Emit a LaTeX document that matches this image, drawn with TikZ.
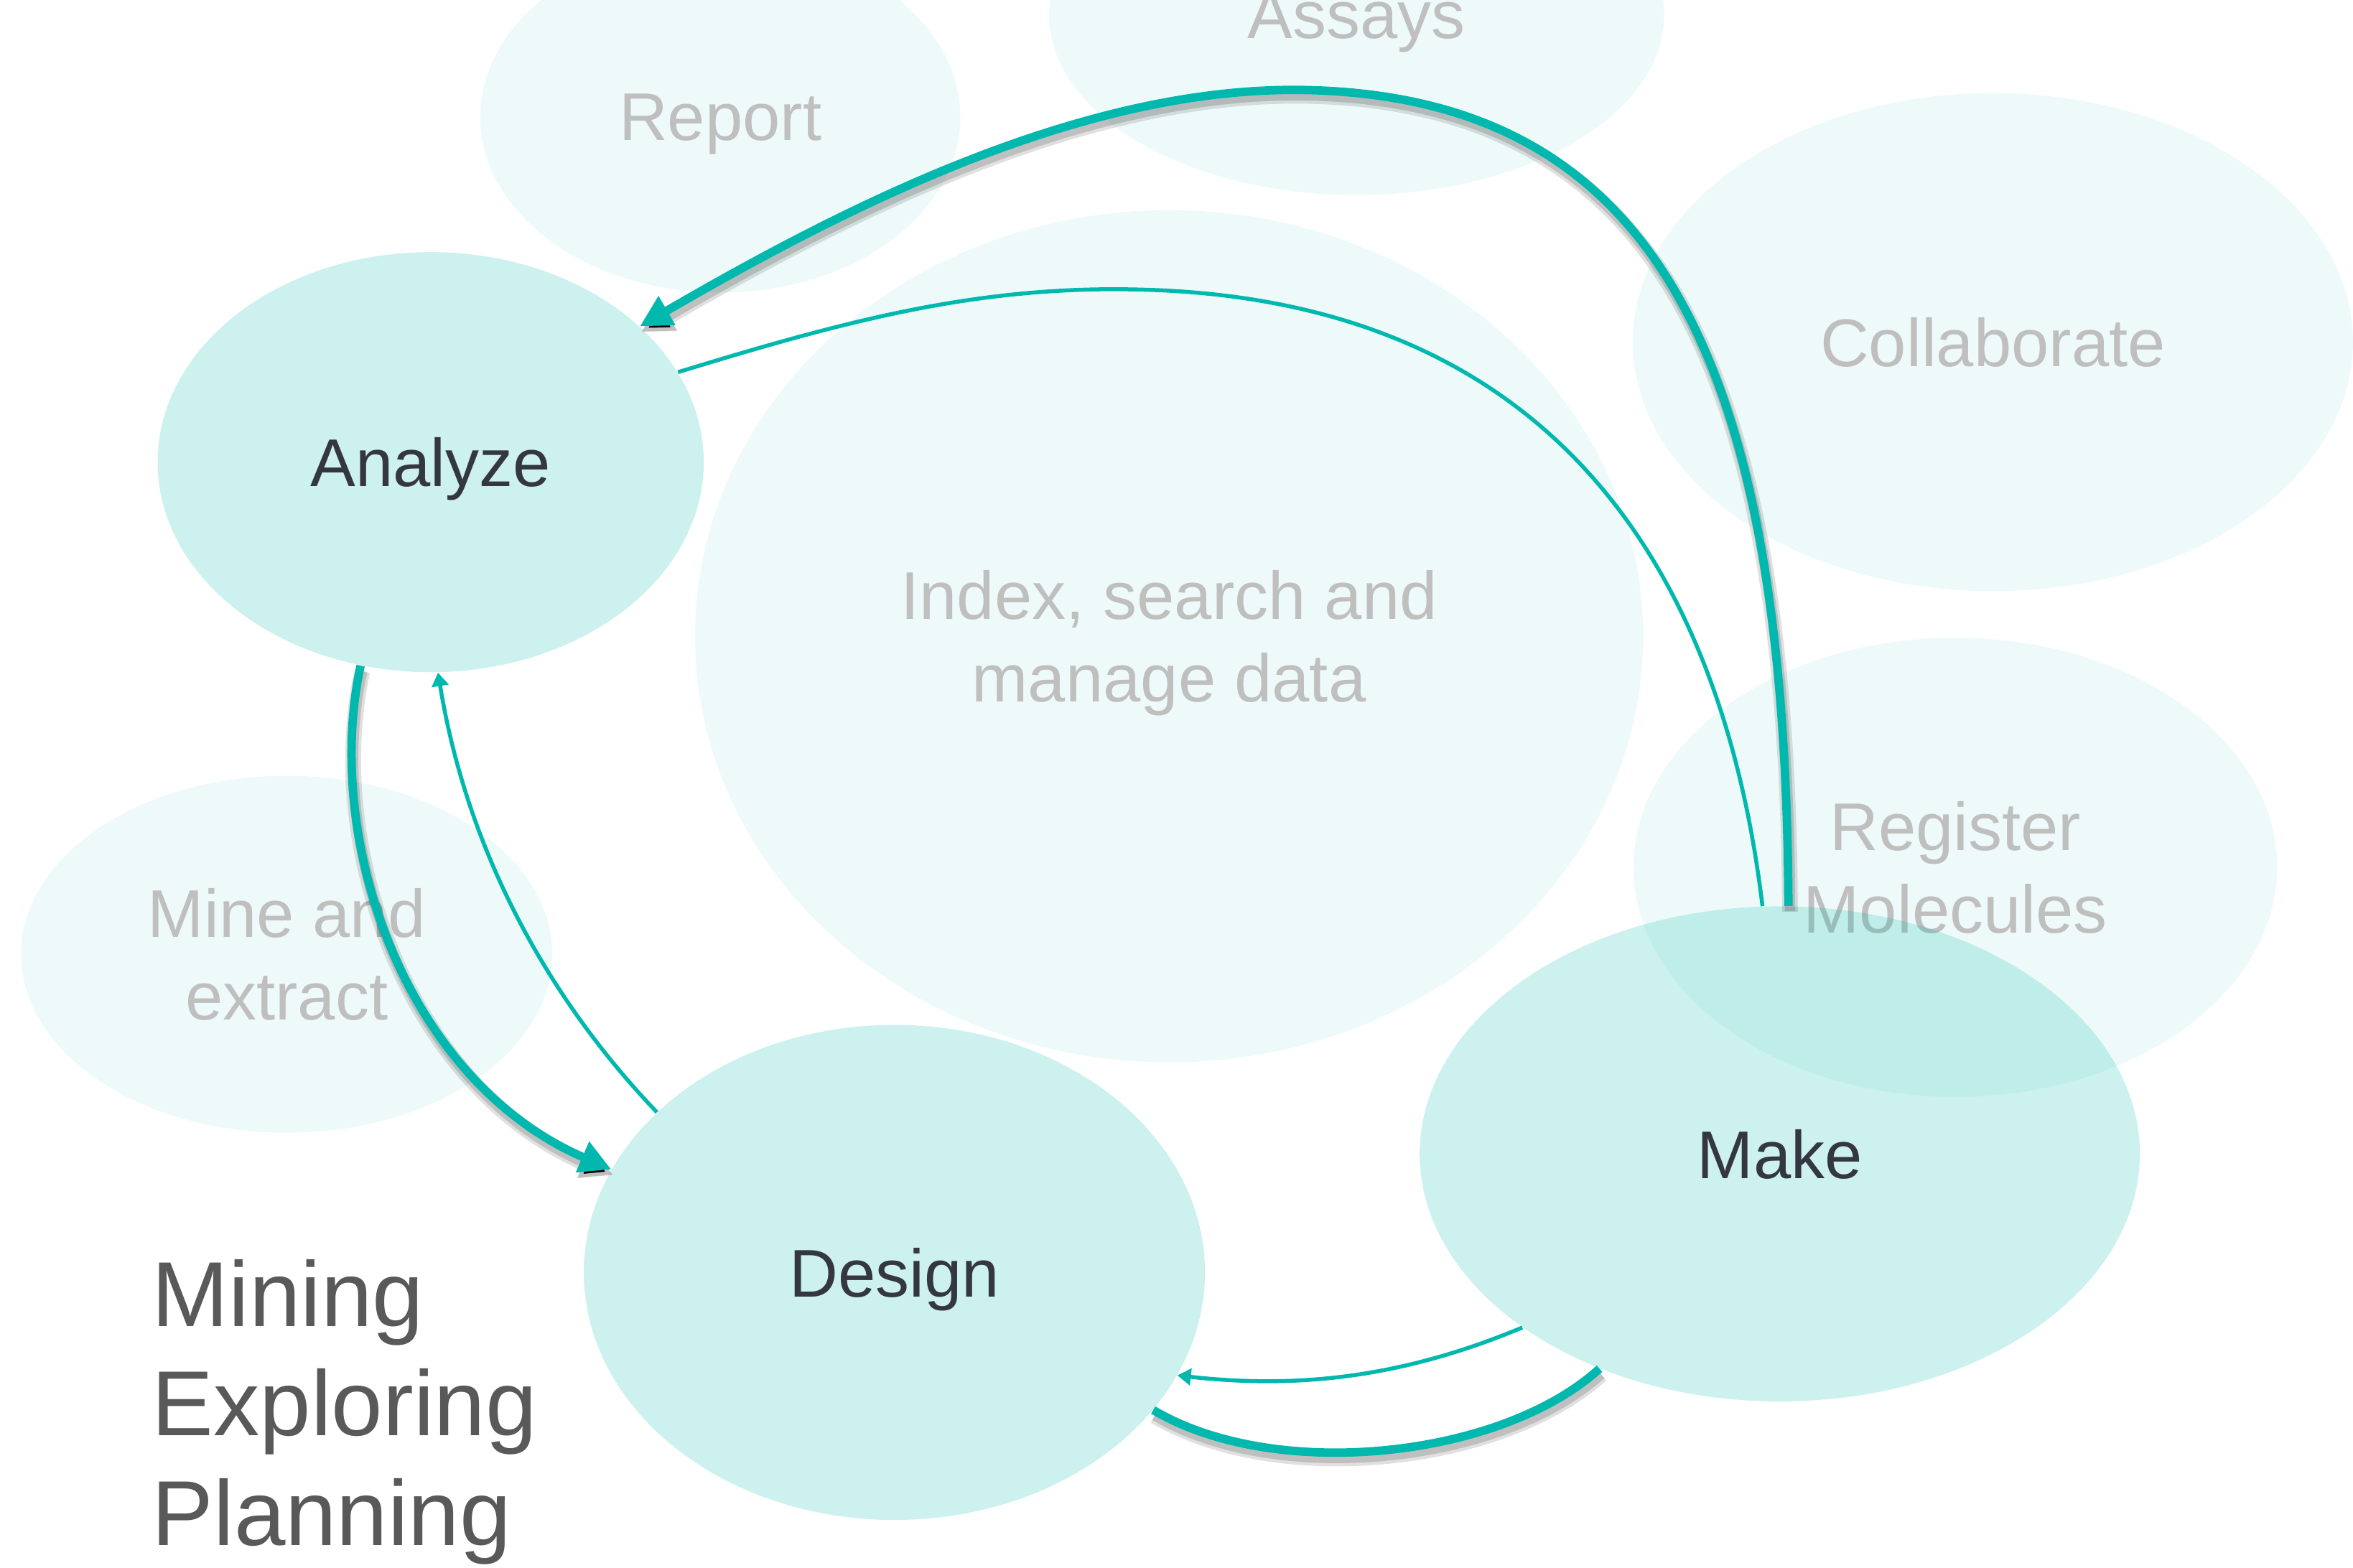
\documentclass[tikz,border=0pt]{standalone}
\usepackage{fontspec}
\setmainfont{Liberation Sans}
\usetikzlibrary{shapes.geometric, arrows.meta}

\definecolor{cyc}{RGB}{0,184,174}
\definecolor{txtdark}{RGB}{52,54,65}
\definecolor{txtgrey}{RGB}{191,191,191}
\definecolor{txtbig}{RGB}{89,89,89}

\tikzstyle{stage} = [ellipse, fill=cyc, fill opacity=0.2, text opacity=1, text=txtdark, inner sep=0pt, text depth=0pt, font=\fontsize{25.6}{31.2}\selectfont]
\tikzstyle{task} = [ellipse, fill=cyc, fill opacity=0.065, text opacity=1, text=txtgrey, inner sep=0pt, text depth=0pt, align=center, font=\fontsize{25.6}{31.2}\selectfont]
\tikzstyle{flow} = [draw=cyc, line width=3.2pt, preaction={draw=black, draw opacity=0.12, line width=6pt, transform canvas={shift={(0.6pt,-2.2pt)}}}, preaction={draw=black, draw opacity=0.15, line width=4pt, transform canvas={shift={(0.6pt,-2pt)}}}]
\tikzstyle{back} = [draw=cyc, line width=1.5pt]

\begin{document}
\begin{tikzpicture}[x=0.02cm, y=-0.02cm]
        \tikzset{big tip/.style={-{Triangle[length=0.42cm, width=0.42cm]}},
                 small tip/.style={-{Triangle[length=0.18cm, width=0.22cm]}}}
        \useasboundingbox (0,0) rectangle (1568,1045);
        % Background tasks
        \node (report) at (480,78) [task, minimum width=6.4cm, minimum height=4.68cm] {Report};
        \node (assays) at (904,10) [task, minimum width=8.2cm, minimum height=4.8cm] {Assays};
        \node (collab) at (1328,228) [task, minimum width=9.6cm, minimum height=6.64cm] {Collaborate};
        \node (index) at (779,424) [task, minimum width=12.64cm, minimum height=11.36cm] {Index, search and\\manage data};
        \node (register) at (1303,578) [task, minimum width=8.58cm, minimum height=6.12cm] {Register\\Molecules};
        \node (mine) at (191,636) [task, minimum width=7.08cm, minimum height=4.76cm] {Mine and\\extract};
        % Main cycle
        \node (analyze) at (287,308) [stage, minimum width=7.28cm, minimum height=5.6cm] {Analyze};
        \node (design) at (596,848) [stage, minimum width=8.28cm, minimum height=6.6cm] {Design};
        \node (make) at (1186,769) [stage, minimum width=9.6cm, minimum height=6.6cm] {Make};
        \node (modes) at (101,839) [anchor=north west, inner sep=0pt, align=left, text=txtbig, font=\fontsize{35}{41.5}\selectfont] {Mining\\Exploring\\Planning};
        % Connectors
        \draw[flow, big tip] (make.88) .. controls (1190,250) and (1110,65) .. (870,60) .. controls (720,57) and (560,140) .. (analyze.33);
        \draw[back] (analyze.20) .. controls (560,215) and (650,190) .. (760,193) .. controls (1050,200) and (1150,400) .. (make.94);
        \draw[flow, big tip] (analyze.251) .. controls (215,560) and (270,720) .. (design.160);
        \draw[back, small tip] (design.146) .. controls (360,660) and (310,560) .. (analyze.272);
        \draw[back, small tip] (make.214) .. controls (930,920) and (860,925) .. (design.-20);
        \draw[flow] (make.230) .. controls (1000,972) and (850,988) .. (design.-28);
\end{tikzpicture}
\end{document}
